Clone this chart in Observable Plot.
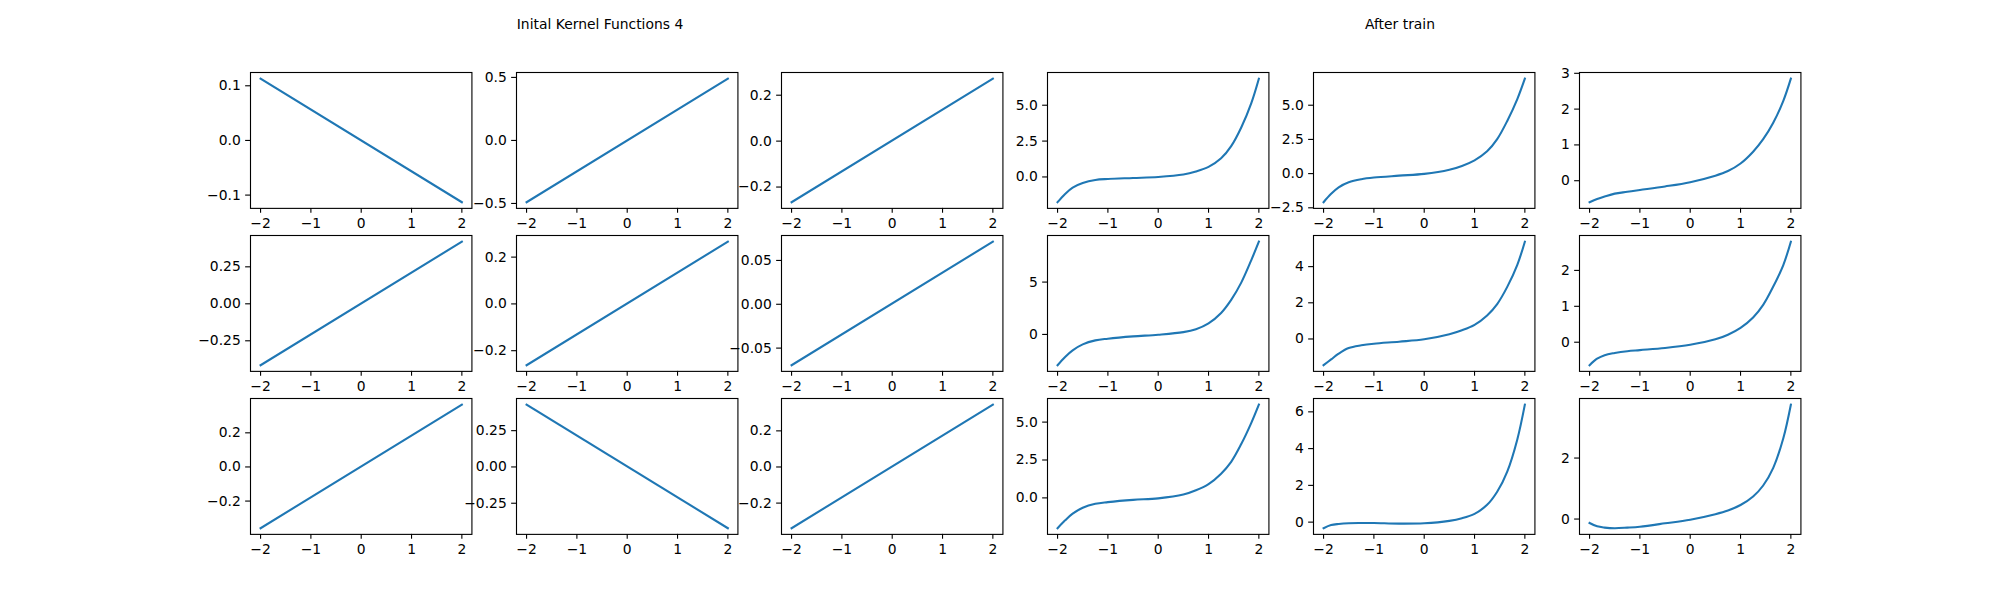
<!DOCTYPE html>
<html>
<head>
<meta charset="utf-8">
<script src="https://cdn.jsdelivr.net/npm/d3@7"></script>
<script src="https://cdn.jsdelivr.net/npm/@observablehq/plot@0.6"></script>
<style>
  body { margin: 0; background: #fff; }
  #fig { position: relative; width: 2000px; height: 600px; background: #fff; font-family: "DejaVu Sans"; overflow: hidden; }
  .title { position: absolute; font-size: 13.89px; line-height: 1; transform: translate(-50%, -50%); white-space: nowrap; color: #000; }
  .cell { position: absolute; }
</style>
</head>
<body>
<div id="fig"></div>
<script>
// ---------- data ----------
const titles = ["Inital Kernel Functions 4", "After train"];
const titleX = [600, 1400];

// straight lines (initial kernels), values at x = -2 and x = 2
const lineX = [-2, 2];
const initRow0 = [[0.113, -0.113], [-0.49, 0.49], [-0.266, 0.272]];
const initRow1 = [[-0.415, 0.42], [-0.262, 0.266], [-0.0695, 0.0714]];
const initRow2 = [[-0.359, 0.365], [0.429, -0.422], [-0.339, 0.345]];

// trained kernels, read on a common x grid
const curveX = [-2, -1.85, -1.7, -1.5, -1.25, -1, -0.5, 0, 0.5, 0.75, 1, 1.25, 1.45, 1.65, 1.85, 2];
const trainRow0 = [
  [-1.76, -1.18, -0.74, -0.42, -0.21, -0.14, -0.07, 0.00, 0.17, 0.38, 0.70, 1.30, 2.15, 3.45, 5.15, 6.85],
  [-2.09, -1.48, -1.00, -0.63, -0.41, -0.29, -0.15, -0.02, 0.28, 0.56, 0.97, 1.63, 2.52, 3.85, 5.45, 6.94],
  [-0.60, -0.51, -0.44, -0.36, -0.31, -0.26, -0.16, -0.04, 0.14, 0.27, 0.48, 0.81, 1.16, 1.62, 2.23, 2.85]
];
const trainRow1 = [
  [-2.94, -2.15, -1.52, -0.95, -0.57, -0.41, -0.19, -0.03, 0.22, 0.50, 1.06, 2.05, 3.30, 4.95, 7.10, 8.86],
  [-1.45, -1.13, -0.81, -0.50, -0.35, -0.26, -0.15, -0.02, 0.26, 0.48, 0.78, 1.30, 1.93, 2.88, 4.10, 5.38],
  [-0.64, -0.46, -0.36, -0.30, -0.25, -0.22, -0.16, -0.07, 0.08, 0.21, 0.40, 0.69, 1.04, 1.55, 2.15, 2.80]
];
const trainRow2 = [
  [-2.00, -1.48, -1.04, -0.65, -0.39, -0.28, -0.13, -0.03, 0.22, 0.50, 0.91, 1.60, 2.38, 3.55, 4.95, 6.15],
  [-0.33, -0.16, -0.10, -0.06, -0.05, -0.05, -0.08, -0.06, 0.07, 0.21, 0.45, 0.94, 1.65, 2.75, 4.50, 6.39],
  [-0.13, -0.24, -0.28, -0.30, -0.28, -0.25, -0.14, -0.02, 0.16, 0.28, 0.46, 0.74, 1.10, 1.68, 2.65, 3.75]
];

// tick labels
const xTicks = [-2, -1, 0, 1, 2];
const yTicksRow0 = [[-0.1, 0, 0.1], [-0.5, 0, 0.5], [-0.2, 0, 0.2], [0, 2.5, 5], [-2.5, 0, 2.5, 5], [0, 1, 2, 3]];
const yTicksRow1 = [[-0.25, 0, 0.25], [-0.2, 0, 0.2], [-0.05, 0, 0.05], [0, 5], [0, 2, 4], [0, 1, 2]];
const yTicksRow2 = [[-0.2, 0, 0.2], [-0.25, 0, 0.25], [-0.2, 0, 0.2], [0, 2.5, 5], [0, 2, 4, 6], [0, 2]];
const yDecRow0 = [1, 1, 1, 1, 1, 0];
const yDecRow1 = [2, 1, 2, 0, 0, 0];
const yDecRow2 = [1, 2, 1, 1, 0, 0];

// ---------- layout (matplotlib default subplot params, 20x6 in @100dpi) ----------
const FW = 2000, FH = 600;
const W = (0.775 * FW) / (6 + 5 * 0.2);
const GX = 0.2 * W;
const H = (0.77 * FH) / (3 + 2 * 0.2);
const GY = 0.2 * H;
const ML = 60, MR = 12, MT = 8, MB = 32;
const PT = 100 / 72;
const BLUE = "#1f77b4";

const fmt = dec => d => (d < 0 ? "\u2212" : "") + Math.abs(d).toFixed(dec);

const fig = document.getElementById("fig");

titles.forEach((t, i) => {
  const el = document.createElement("div");
  el.className = "title";
  el.textContent = t;
  el.style.left = titleX[i] + "px";
  el.style.top = "25px";
  fig.appendChild(el);
});

const inits = [initRow0, initRow1, initRow2];
const trains = [trainRow0, trainRow1, trainRow2];
const yTicks = [yTicksRow0, yTicksRow1, yTicksRow2];
const yDecs = [yDecRow0, yDecRow1, yDecRow2];

for (let r = 0; r < 3; r++) {
  for (let c = 0; c < 6; c++) {
    let xs, ys;
    if (c < 3) { xs = lineX; ys = inits[r][c]; }
    else { xs = curveX; ys = trains[r][c - 3]; }
    const data = xs.map((x, i) => ({x, y: ys[i]}));
    const [lo, hi] = d3.extent(ys);
    const pad = 0.05 * (hi - lo);
    const plot = Plot.plot({
      width: W + ML + MR,
      height: H + MT + MB,
      marginLeft: ML, marginRight: MR, marginTop: MT, marginBottom: MB,
      style: {fontFamily: "DejaVu Sans", fontSize: (10 * PT) + "px", color: "#000", background: "transparent", overflow: "visible"},
      x: {domain: [-2.2, 2.2]},
      y: {domain: [lo - pad, hi + pad]},
      marks: [
        Plot.line(data, {x: "x", y: "y", stroke: BLUE, strokeWidth: 1.5 * PT, curve: c < 3 ? "linear" : "catmull-rom", strokeLinecap: "square"}),
        Plot.axisX({ticks: xTicks, tickFormat: fmt(0), tickSize: 3.5 * PT, tickPadding: 3.5 * PT, strokeWidth: 0.8 * PT, label: null, fill: "#000"}),
        Plot.axisY({ticks: yTicks[r][c], tickFormat: fmt(yDecs[r][c]), tickSize: 3.5 * PT, tickPadding: 3.5 * PT, strokeWidth: 0.8 * PT, label: null, fill: "#000"}),
        Plot.frame({stroke: "#000", strokeWidth: 0.8 * PT})
      ]
    });
    const cell = document.createElement("div");
    cell.className = "cell";
    cell.style.left = (0.125 * FW + c * (W + GX) - ML) + "px";
    cell.style.top = ((1 - 0.88) * FH + r * (H + GY) - MT) + "px";
    cell.appendChild(plot);
    fig.appendChild(cell);
  }
}
</script>
</body>
</html>
